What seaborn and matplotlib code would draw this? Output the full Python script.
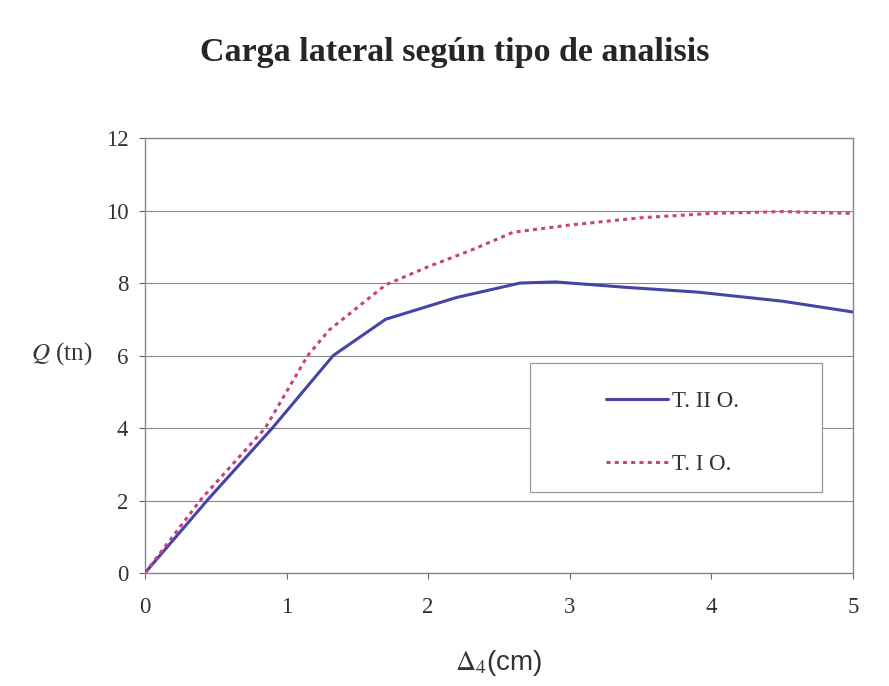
import matplotlib
matplotlib.use("Agg")
import matplotlib.pyplot as plt
import seaborn as sns
import pandas as pd
from matplotlib.patches import Rectangle
from matplotlib.lines import Line2D

# Data
x_t2 = [0, 0.45, 0.9, 1.33, 1.7, 2.2, 2.65, 2.9, 3.4, 3.9, 4.5, 5.0]
y_t2 = [0, 2.05, 4.0, 6.0, 7.0, 7.6, 8.0, 8.03, 7.88, 7.75, 7.5, 7.2]
x_t1 = [0, 0.4, 0.85, 1.15, 1.3, 1.7, 2.0, 2.3, 2.6, 3.0, 3.5, 4.0, 4.5, 5.0]
y_t1 = [0, 2.05, 4.0, 6.0, 6.7, 7.95, 8.45, 8.9, 9.4, 9.6, 9.8, 9.92, 9.97, 9.92]
labels = ["T. II O.", "T. I O."]
x_ticks = [0, 1, 2, 3, 4, 5]
y_ticks = [0, 2, 4, 6, 8, 10, 12]

df = pd.concat([
    pd.DataFrame({"x": x_t2, "y": y_t2, "serie": labels[0]}),
    pd.DataFrame({"x": x_t1, "y": y_t1, "serie": labels[1]}),
])

sns.set_theme(style="white")
plt.rcParams["mathtext.fontset"] = "stix"

fig = plt.figure(figsize=(8.89, 6.86), dpi=100)
fig.patch.set_facecolor("white")
ax = fig.add_axes([0.163, 0.1647, 0.7965, 0.6341])

palette = {labels[0]: "#4545a5", labels[1]: "#cc3f80"}
dash_t1 = (1.3, 1.4)
sns.lineplot(data=df, x="x", y="y", hue="serie", style="serie",
             palette=palette, dashes={labels[0]: "", labels[1]: dash_t1},
             sort=False, estimator=None, ax=ax, legend=False)
for ln in ax.get_lines():
    ln.set_linewidth(2.2)
    ln.set_zorder(4)

ax.set_xlim(0, 5)
ax.set_ylim(0, 12)
ax.set_xticks(x_ticks)
ax.set_yticks(y_ticks)
ax.set_xticklabels([str(v) for v in x_ticks], fontsize=16.5, family="Liberation Serif", color="#333333")
ax.set_yticklabels([str(v) for v in y_ticks], fontsize=16.5, family="Liberation Serif", color="#333333")
ax.tick_params(axis="both", direction="out", length=4, width=0.8, color="#666666",
               bottom=True, left=True)
ax.tick_params(axis="x", pad=13)
ax.tick_params(axis="y", pad=8)
ax.yaxis.grid(True, color="#888888", linewidth=0.8)
ax.set_axisbelow(True)
for s in ax.spines.values():
    s.set_color("#888888")
    s.set_linewidth(1.0)

ax.set_xlabel(r"$\Delta_{4}$(cm)", fontsize=20, family="Liberation Sans", color="#333333", labelpad=22)
ax.set_ylabel(r"$Q$ (tn)", fontsize=18, family="Liberation Serif", color="#333333", rotation=0,
              va="center", ha="center")
ax.yaxis.set_label_coords(-0.117, 0.505)

fig.text(0.511, 0.923, "Carga lateral según tipo de analisis", ha="center", va="center",
         fontsize=24.5, fontweight="bold", family="Liberation Serif", color="#262626")

# legend box
ax.add_patch(Rectangle((0.544, 0.186), 0.412, 0.297, transform=ax.transAxes,
                       facecolor="white", edgecolor="#999999", linewidth=0.9, zorder=3))
handles = [Line2D([], [], color=palette[labels[0]], lw=2.2),
           Line2D([], [], color=palette[labels[1]], lw=2.2, linestyle=(0, dash_t1))]
leg = ax.legend(handles, labels, loc="upper left", bbox_to_anchor=(0.635, 0.445),
                frameon=False, prop={"family": "Liberation Serif", "size": 16.5},
                handlelength=2.7, handletextpad=0.2, labelspacing=1.85, borderpad=0)
for t in leg.get_texts():
    t.set_color("#333333")
leg.set_zorder(5)

fig.savefig("out.png", dpi=100, facecolor="white")
